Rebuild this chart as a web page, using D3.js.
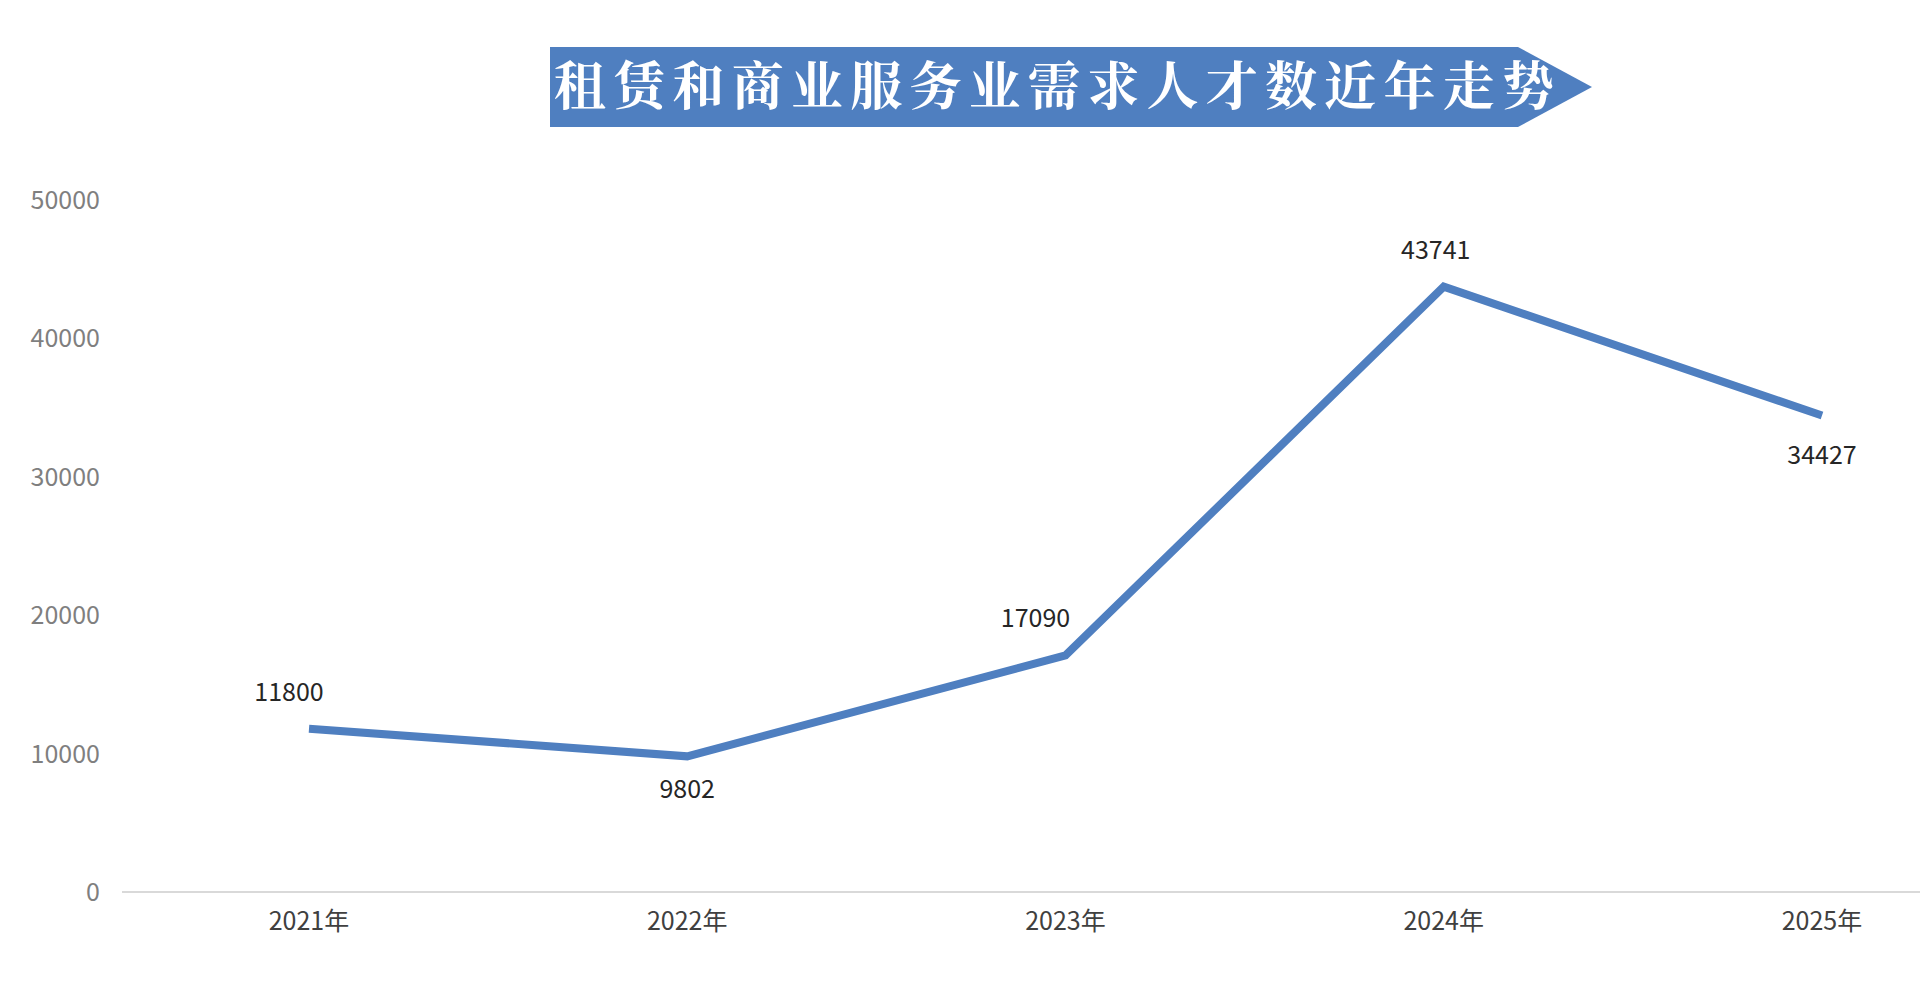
<!DOCTYPE html><html><head><meta charset="utf-8"><script src="https://cdn.jsdelivr.net/npm/d3@7"></script>
<style>body{margin:0;background:#fff}</style></head><body><svg id="c" width="1920" height="994"></svg>
<script>
const categories=["2021年","2022年","2023年","2024年","2025年"];
const values=[11800,9802,17090,43741,34427];
const yTicks=[0,10000,20000,30000,40000,50000];
const title="租赁和商业服务业需求人才数近年走势";
const svg=d3.select("#c");
const x=d3.scalePoint().domain(categories).range([309,1822]);
const y=d3.scaleLinear().domain([0,50000]).range([892,200]);
// title banner
svg.append("path").attr("d","M550,47 L1518,47 L1592,87 L1518,127 L550,127 Z").attr("fill","#4f7fc0");
svg.append("text").attr("x",554).attr("y",105).attr("font-family","Noto Serif CJK SC, Noto Sans CJK SC").attr("font-weight","bold").attr("font-size",52).attr("fill","#fff").attr("textLength",1000).text(title);
// axis
svg.append("line").attr("x1",122).attr("x2",1920).attr("y1",y(0)).attr("y2",y(0)).attr("stroke","#d9d9d9").attr("stroke-width",2);
svg.selectAll(".yt").data(yTicks).join("text").attr("x",100).attr("y",d=>y(d)+9).attr("text-anchor","end").attr("font-family","Noto Sans CJK SC").attr("font-size",25).attr("fill","#7f7f7f").text(d=>d);
svg.selectAll(".xt").data(categories).join("text").attr("x",d=>x(d)).attr("y",930).attr("text-anchor","middle").attr("font-family","Noto Sans CJK SC").attr("font-size",25).attr("fill","#404040").text(d=>d);
svg.append("path").datum(values).attr("d",d3.line().x((d,i)=>x(categories[i])).y(d=>y(d))).attr("fill","none").attr("stroke","#4f7fc0").attr("stroke-width",8).attr("stroke-linejoin","miter");
const dy=[-28,42,-28,-28,48], dx=[-20,0,-30,-8,0];
svg.selectAll(".dl").data(values).join("text").attr("x",(d,i)=>x(categories[i])+dx[i]).attr("y",(d,i)=>y(d)+dy[i]).attr("text-anchor","middle").attr("font-family","Noto Sans CJK SC").attr("font-size",25).attr("fill","#262626").text(d=>d);
</script></body></html>
